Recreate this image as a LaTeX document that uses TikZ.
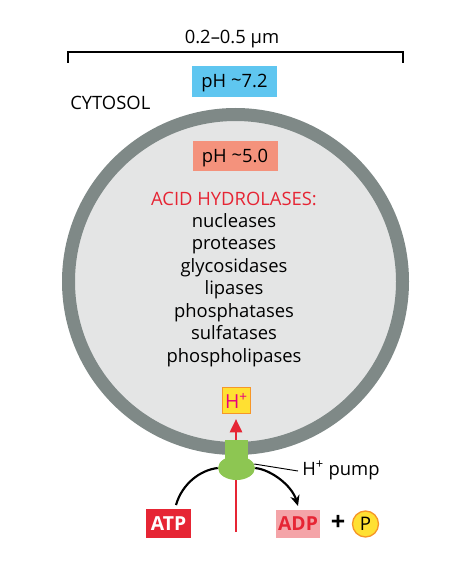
\documentclass[tikz,border=0pt]{standalone}
\usepackage{fontspec}
\setmainfont{Open Sans}
\usetikzlibrary{arrows.meta,shapes.geometric}
\definecolor{ringgray}{RGB}{127,137,135}
\definecolor{innergray}{RGB}{228,229,229}
\definecolor{phblue}{RGB}{95,198,240}
\definecolor{phsalmon}{RGB}{244,146,124}
\definecolor{acidred}{RGB}{230,37,52}
\definecolor{pumpgreen}{RGB}{141,198,82}
\definecolor{hyellow}{RGB}{255,224,50}
\definecolor{horange}{RGB}{246,150,40}
\definecolor{hmagenta}{RGB}{230,0,126}
\definecolor{adppink}{RGB}{244,164,168}
\tikzset{
  txt/.style={font=\fontsize{13.8}{16}\selectfont, inner sep=0pt, text height=9.6pt, text depth=0pt},
  phbox/.style={txt, minimum width=63.75pt, minimum height=23pt},
  molbox/.style={font=\fontsize{14.5}{17}\selectfont\bfseries, minimum height=21.5pt, inner sep=0pt, text height=10.2pt, text depth=0pt},
}
\begin{document}
\begin{tikzpicture}[x=0.75pt,y=-0.75pt]
\useasboundingbox (0,0) rectangle (465,588);
% vesicle
\fill[innergray] (235.5,281.5) circle (167);
\draw[ringgray, line width=9.75pt] (235.5,281.5) circle (167);
% scale bar
\node[txt] (scale) at (232,37) {0.2–0.5 μm};
\coordinate (bl) at (68,63);
\coordinate (br) at (403,63);
\draw[line width=0.9pt] (bl) -- ++(0,-11) -- ([yshift=11*0.75pt]br) -- (br);
% labels
\node[phbox, fill=phblue] (ph72) at (234.5,81.5) {pH \raisebox{0.1ex}{\char"007E}7.2};
\node[txt, anchor=west] (cyto) at (70,103) {CYTOSOL};
\node[phbox, fill=phsalmon] (ph50) at (235,156) {pH \raisebox{0.1ex}{\char"007E}5.0};
\node[txt, text=acidred] (acid) at (234,199) {ACID HYDROLASES:};
\node[txt] (l1) at (234,221) {nucleases};
\node[txt] (l2) at (234,243.5) {proteases};
\node[txt] (l3) at (234,266) {glycosidases};
\node[txt] (l4) at (234,288.5) {lipases};
\node[txt] (l5) at (234,311) {phosphatases};
\node[txt] (l6) at (234,333.5) {sulfatases};
\node[txt] (l7) at (234,356) {phospholipases};
% H+ box
\node[font=\fontsize{14.5}{16}\selectfont, inner sep=0pt, fill=hyellow, draw=horange, line width=1.2pt, minimum width=21pt, minimum height=19.5pt, text=hmagenta] (hplus) at (236.5,400.5) {H\textsuperscript{+}};
% red proton path
\coordinate (rstart) at (236,532);
\coordinate (rend) at (236,419);
\draw[acidred, line width=2pt, -{Triangle[width=9pt,length=10pt]}] (rstart) -- (rend);
% pump
\fill[pumpgreen] (225,440) rectangle (248,462);
\node[ellipse, fill=pumpgreen, minimum width=27.75pt, minimum height=18pt, inner sep=0pt] (pump) at (236.5,468) {};
% pump label
\node[txt, anchor=west] (pumplbl) at (302,469) {H\textsuperscript{+} pump};
\draw[line width=0.7pt] (pump.east) ++(-1,-4) coordinate (pl) (pl) -- ([xshift=-4*0.75pt,yshift=-2*0.75pt]pumplbl.west);
% molecules
\node[molbox, fill=acidred, text=white, minimum width=33.75pt] (atp) at (168.5,523.5) {ATP};
\node[molbox, fill=adppink, text=acidred, minimum width=33pt] (adp) at (298,524) {ADP};
\node[font=\fontsize{19}{20}\selectfont\bfseries, inner sep=0pt] (plus) at (338,523) {+};
\node[circle, fill=hyellow, draw=horange, line width=1pt, minimum size=19.5pt, inner sep=0pt, font=\fontsize{14}{16}\selectfont] (pi) at (365.5,524) {P};
% reaction curves
\coordinate (atptop) at (176,505);
\coordinate (adptop) at (298,506);
\draw[line width=1.6pt] (atptop) .. controls (182,484) and (200,470) .. (pump.west);
\draw[line width=1.6pt, -{Stealth[width=7pt,length=8pt]}] (pump.east) .. controls (272,470) and (292,486) .. (adptop);
\end{tikzpicture}
\end{document}
